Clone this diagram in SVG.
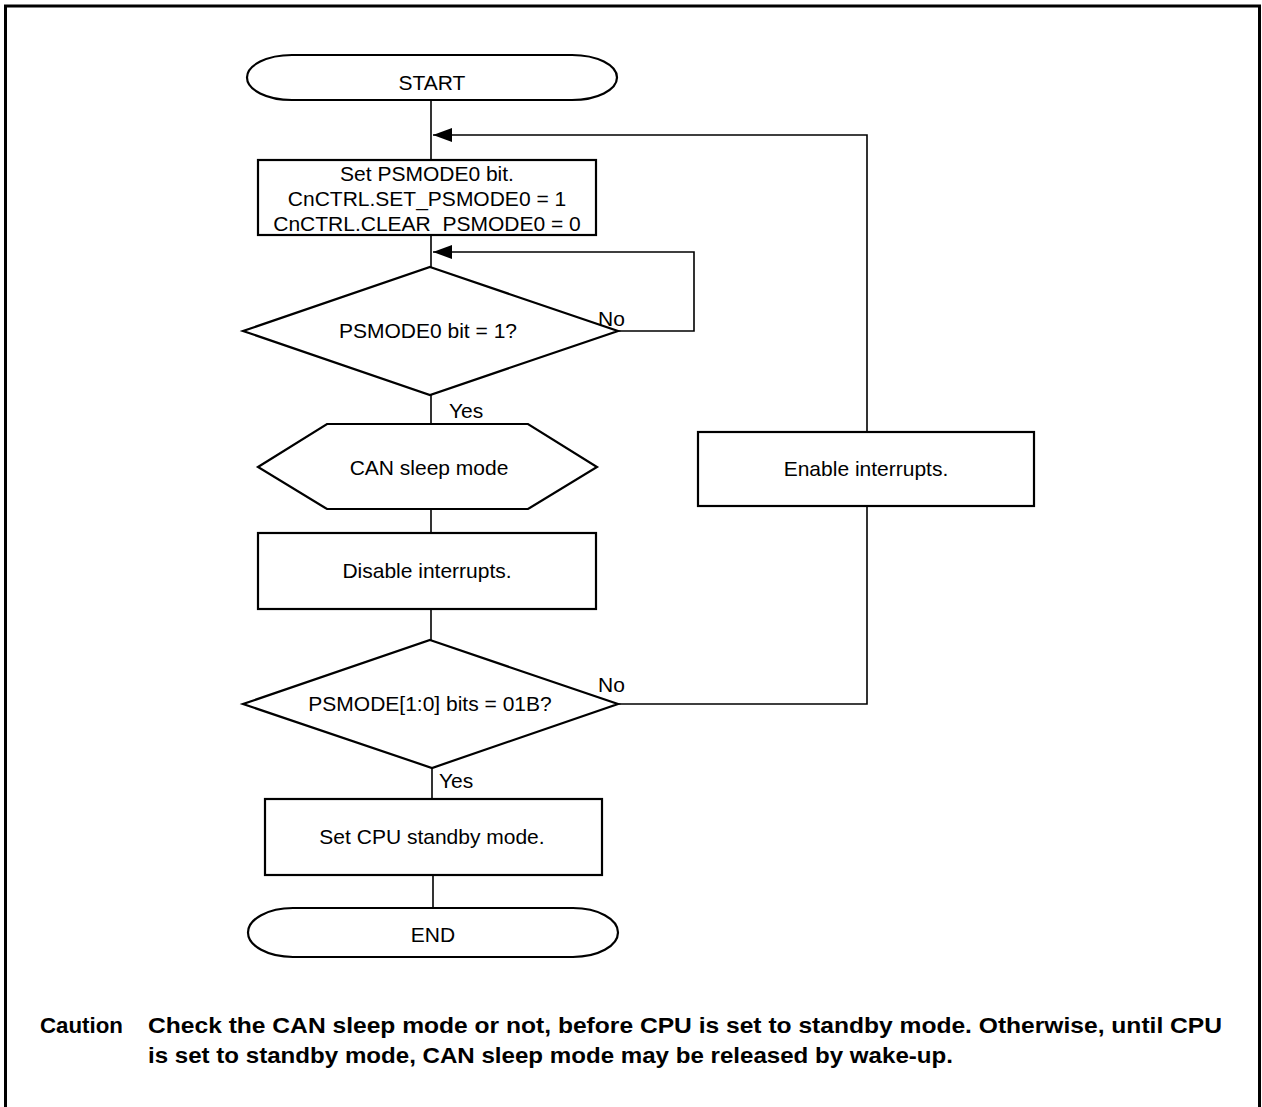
<svg xmlns="http://www.w3.org/2000/svg" width="1262" height="1107" viewBox="0 0 1262 1107">
<style>
.t{font-family:"Liberation Sans",Arial,sans-serif;font-size:21px;fill:#000;text-anchor:middle}
.l{font-family:"Liberation Sans",Arial,sans-serif;font-size:21px;fill:#000}
.c{font-family:"Liberation Sans",Arial,sans-serif;font-size:22px;font-weight:bold;fill:#000}
.s{fill:#fff;stroke:#000;stroke-width:2.2}
.e{fill:none;stroke:#000;stroke-width:1.6}
</style>
<defs>
<marker id="ah" markerWidth="20" markerHeight="15" refX="19" refY="7" orient="auto" markerUnits="userSpaceOnUse">
<path d="M0,0 L19,7 L0,14 Z" fill="#000"/>
</marker>
</defs>
<rect width="1262" height="1107" fill="#fff"/>
<path d="M5.5,1107 V6 H1259.5 V1107" fill="none" stroke="#000" stroke-width="3"/>
<g id="connectors">
<path class="e" d="M431,100 V160"/>
<path class="e" d="M431,235 V267"/>
<path class="e" d="M431,395 V424"/>
<path class="e" d="M431,509 V533"/>
<path class="e" d="M431,609 V640"/>
<path class="e" d="M432,768 V799"/>
<path class="e" d="M433,875 V908"/>
<path class="e" d="M618,331 H694 V252 H433" marker-end="url(#ah)"/>
<path class="e" d="M618,704 H867 V506"/>
<path class="e" d="M867,432 V135 H433" marker-end="url(#ah)"/>
<text class="l" x="598" y="326">No</text>
<text class="l" x="449" y="418">Yes</text>
<text class="l" x="598" y="692">No</text>
<text class="l" x="439" y="788">Yes</text>
</g>
<g id="start">
<rect class="s" x="247" y="55" width="370" height="45" rx="45" ry="22.5"/>
<text class="t" x="432" y="90">START</text>
</g>
<g id="set-psmode0">
<rect class="s" x="258" y="160" width="338" height="75"/>
<text class="t" x="427" y="181">Set PSMODE0 bit.</text>
<text class="t" x="427" y="206">CnCTRL.SET_PSMODE0 = 1</text>
<text class="t" x="427" y="231">CnCTRL.CLEAR_PSMODE0 = 0</text>
</g>
<g id="check-psmode0">
<polygon class="s" points="430,267 618,331 430,395 243,331"/>
<text class="t" x="428" y="338">PSMODE0 bit = 1?</text>
</g>
<g id="can-sleep">
<polygon class="s" points="258,467 327,424 528,424 597,467 528,509 327,509"/>
<text class="t" x="429" y="475">CAN sleep mode</text>
</g>
<g id="disable-int">
<rect class="s" x="258" y="533" width="338" height="76"/>
<text class="t" x="427" y="578">Disable interrupts.</text>
</g>
<g id="check-psmode">
<polygon class="s" points="430,640 618,704 432,768 243,704"/>
<text class="t" x="430" y="711">PSMODE[1:0] bits = 01B?</text>
</g>
<g id="enable-int">
<rect class="s" x="698" y="432" width="336" height="74"/>
<text class="t" x="866" y="476">Enable interrupts.</text>
</g>
<g id="cpu-standby">
<rect class="s" x="265" y="799" width="337" height="76"/>
<text class="t" x="432" y="844">Set CPU standby mode.</text>
</g>
<g id="end">
<rect class="s" x="248" y="908" width="370" height="49" rx="45" ry="24.5"/>
<text class="t" x="433" y="942">END</text>
</g>
<g id="caution">
<text class="c" x="40" y="1033" textLength="83" lengthAdjust="spacingAndGlyphs">Caution</text>
<text class="c" x="148" y="1033" textLength="1074" lengthAdjust="spacingAndGlyphs">Check the CAN sleep mode or not, before CPU is set to standby mode. Otherwise, until CPU</text>
<text class="c" x="148" y="1063" textLength="805" lengthAdjust="spacingAndGlyphs">is set to standby mode, CAN sleep mode may be released by wake-up.</text>
</g>
</svg>
